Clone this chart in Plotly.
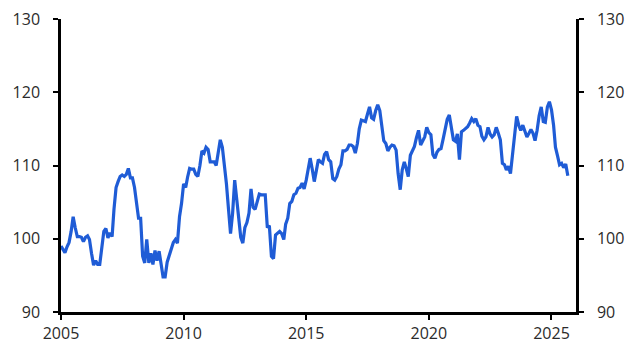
import pandas as pd
import plotly.graph_objects as go

start_month = "2005-01-01"
index_values = [
    # 2005
    99.0, 98.5, 98.1, 98.9, 99.5, 101.0, 103.0, 101.5, 100.3, 100.3, 100.2, 99.6,
    # 2006
    100.2, 100.4, 99.9, 98.0, 96.4, 97.0, 96.5, 96.5, 98.5, 101.0, 101.4, 100.1,
    # 2007
    100.8, 100.3, 104.0, 107.0, 107.8, 108.5, 108.7, 108.5, 108.8, 109.6, 108.3, 108.3,
    # 2008
    107.0, 105.0, 102.8, 102.8, 97.6, 96.7, 99.9, 96.7, 98.0, 96.5, 98.4, 97.0,
    # 2009
    98.3, 96.5, 94.8, 94.8, 96.8, 97.7, 98.8, 99.5, 99.9, 99.4, 103.0, 104.8,
    # 2010
    107.5, 107.0, 108.4, 109.6, 109.5, 109.5, 108.8, 108.5, 110.0, 112.0, 111.7, 112.5,
    # 2011
    112.2, 110.5, 110.5, 110.5, 110.0, 111.5, 113.5, 112.5, 110.3, 107.5, 104.0, 100.7,
    # 2012
    103.5, 108.0, 105.5, 102.5, 100.2, 99.4, 101.5, 102.2, 103.5, 106.8, 104.3, 104.0,
    # 2013
    105.0, 106.1, 106.0, 106.0, 106.0, 101.5, 101.8, 97.6, 97.3, 100.5, 100.8, 101.0,
    # 2014
    100.7, 99.9, 102.0, 102.8, 104.8, 105.1, 106.0, 106.2, 106.9, 107.0, 107.6, 106.8,
    # 2015
    108.0, 109.5, 111.0, 109.5, 107.8, 109.3, 110.8, 110.5, 110.3, 111.5, 111.9, 110.8,
    # 2016
    110.5, 108.2, 108.0, 108.5, 109.5, 110.1, 112.0, 112.0, 112.2, 112.8, 112.8, 112.6,
    # 2017
    111.7, 113.0, 115.0, 116.2, 116.1, 116.0, 117.0, 118.0, 116.5, 116.3, 117.5, 118.3,
    # 2018
    117.5, 114.8, 113.4, 113.0, 112.0, 112.5, 112.8, 112.7, 112.1, 108.9, 106.7, 109.4,
    # 2019
    110.5, 109.5, 108.5, 111.4, 111.9, 112.6, 113.8, 114.8, 112.8, 113.3, 113.9, 115.2,
    # 2020
    114.5, 114.2, 111.5, 111.0, 111.8, 112.2, 112.3, 113.6, 114.8, 116.3, 116.9, 115.1,
    # 2021
    113.5, 113.3, 114.3, 110.8, 114.6, 114.8, 115.1, 115.3, 115.8, 116.4, 116.0, 116.4,
    # 2022
    115.5, 115.3, 114.0, 113.5, 113.9, 115.2, 114.3, 113.9, 114.2, 115.2, 114.4, 113.5,
    # 2023
    110.3, 110.1, 109.4, 109.9, 108.9, 111.4, 114.5, 116.7, 115.5, 114.8, 115.5, 114.8,
    # 2024
    113.9, 114.4, 114.9, 114.4, 113.4, 114.8, 116.8, 118.0, 116.0, 115.9, 118.0, 118.7,
    # 2025
    117.6, 115.5, 112.5, 111.3, 110.1, 110.3, 109.7, 110.2, 108.6,
]
dates = pd.date_range(start_month, periods=len(index_values), freq="MS")

y_range = [90, 130]
y_ticks = [90, 100, 110, 120, 130]
x_range = ["2005-01-01", "2026-01-01"]

LINE = "#1f5cd6"
TXT = "#2b2b2b"
FONT = "Open Sans"

fig = go.Figure()
fig.add_trace(go.Scatter(x=dates, y=index_values, mode="lines",
                         line=dict(color=LINE, width=3.2), showlegend=False))
fig.add_trace(go.Scatter(x=dates, y=index_values, mode="lines", yaxis="y2",
                         line=dict(color="rgba(0,0,0,0)", width=0),
                         showlegend=False, hoverinfo="skip"))

axis_common = dict(showgrid=False, zeroline=False, showline=True, linecolor="black",
                   linewidth=2.5, ticks="outside", ticklen=5, tickwidth=2,
                   tickcolor="black", automargin=False,
                   tickfont=dict(family=FONT, size=16, color=TXT))

fig.update_layout(
    width=629, height=351,
    margin=dict(l=61, r=53, t=19, b=39),
    paper_bgcolor="white", plot_bgcolor="white",
    xaxis=dict(range=x_range, tickformat="%Y", dtick="M60", tick0="2005-01-01",
               **axis_common),
    yaxis=dict(range=y_range, tickvals=y_ticks, ticklabelstandoff=10, **axis_common),
    yaxis2=dict(range=y_range, tickvals=y_ticks, overlaying="y", side="right",
                ticklabelstandoff=10, **axis_common),
)

fig.write_html("out.html")
